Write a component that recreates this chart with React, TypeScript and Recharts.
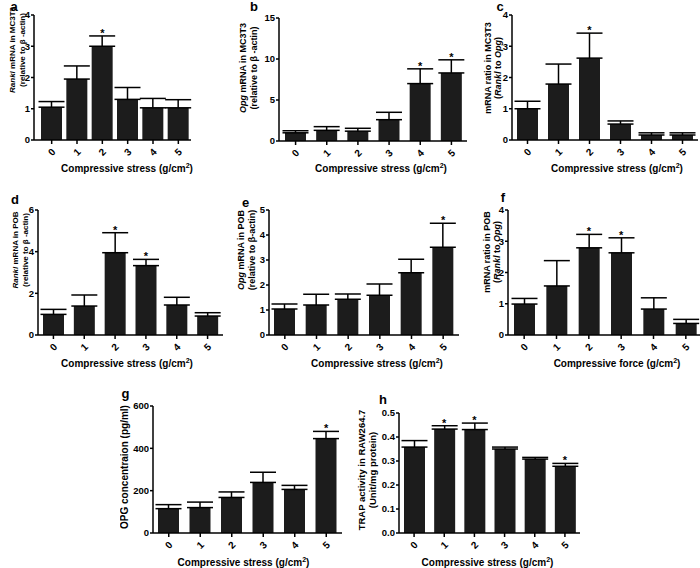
import React from 'react';
import { ComposedChart, Bar, ErrorBar, Scatter, XAxis, YAxis } from 'recharts';

const stressLevels = ['0', '1', '2', '3', '4', '5'];

// a - Rankl mRNA in MC3T3
const ranklMc3t3 = [1.05, 1.95, 3.0, 1.3, 1.03, 1.03];
const ranklMc3t3Sem = [0.18, 0.42, 0.33, 0.38, 0.3, 0.26];
const ranklMc3t3Sig = [2];

// b - Opg mRNA in MC3T3
const opgMc3t3 = [1.0, 1.3, 1.2, 2.6, 7.0, 8.3];
const opgMc3t3Sem = [0.25, 0.45, 0.35, 0.9, 1.8, 1.6];
const opgMc3t3Sig = [4, 5];

// c - Rankl/Opg ratio in MC3T3
const ratioMc3t3 = [1.0, 1.79, 2.62, 0.51, 0.16, 0.16];
const ratioMc3t3Sem = [0.24, 0.64, 0.8, 0.1, 0.07, 0.07];
const ratioMc3t3Sig = [2];

// d - Rankl mRNA in POB
const ranklPob = [0.99, 1.39, 3.95, 3.33, 1.44, 0.91];
const ranklPobSem = [0.24, 0.53, 0.96, 0.3, 0.37, 0.16];
const ranklPobSig = [2, 3];

// e - Opg mRNA in POB
const opgPob = [1.04, 1.2, 1.43, 1.59, 2.49, 3.51];
const opgPobSem = [0.2, 0.43, 0.21, 0.45, 0.54, 0.96];
const opgPobSig = [5];

// f - Rankl/Opg ratio in POB
const ratioPob = [0.99, 1.57, 2.79, 2.63, 0.83, 0.37];
const ratioPobSem = [0.18, 0.81, 0.43, 0.48, 0.36, 0.13];
const ratioPobSig = [2, 3];

// g - OPG concentration
const opgConc = [115, 120, 168, 239, 206, 446];
const opgConcSem = [19, 26, 26, 48, 19, 34];
const opgConcSig = [5];

// h - TRAP activity in RAW264.7
const trapActivity = [0.358, 0.433, 0.431, 0.35, 0.308, 0.278];
const trapActivitySem = [0.027, 0.014, 0.027, 0.008, 0.007, 0.012];
const trapActivitySig = [1, 2, 5];

const font = 'Liberation Sans, Arial, sans-serif';

const makeRows = (vals: number[], sem: number[], sig: number[]) =>
  stressLevels.map((s, i) => ({
    stress: s,
    value: vals[i],
    err: [0, sem[i]],
    star: sig.includes(i) ? vals[i] + sem[i] : null,
  }));

const StressTick = (props: any) => {
  const { x, y, payload } = props;
  return (
    <g transform={`translate(${x},${y + 6})`}>
      <text transform="rotate(-45)" textAnchor="middle" dominantBaseline="central"
        fontSize={10} fontWeight="bold" fill="#000" fontFamily={font}>
        {payload.value}
      </text>
    </g>
  );
};

const StarShape = (props: any) => {
  if (props.payload == null || props.payload.star == null) return <g />;
  return (
    <text x={props.cx} y={props.cy + 1} textAnchor="middle" fontSize={11}
      fontWeight="bold" fill="#000" fontFamily={font}>*</text>
  );
};

const XTitle = ({ text, tx, ty }: any) => (
  <text x={tx} y={ty} textAnchor="middle" fontSize={10} fontWeight="bold" fill="#000" fontFamily={font}>
    {text}
    <tspan dy={-4} fontSize={7}>2</tspan>
    <tspan dy={4}>)</tspan>
  </text>
);

const YTitle = ({ lines, xs, mid, size }: any) => (
  <g>
    {lines.map((ln: any, i: number) => (
      <text key={i} transform={`translate(${xs[i]},${mid}) rotate(-90)`} textAnchor="middle"
        dominantBaseline="central" fontSize={size} fontWeight="bold" fill="#000" fontFamily={font}>
        {ln}
      </text>
    ))}
  </g>
);

const Panel = (p: any) => {
  const { rows, box, plot, domain, ticks, fmt, yLines, yXs, yCy, ySize, xText, xCx, xY } = p;
  return (
    <div style={{ position: 'absolute', left: box.x, top: box.y }}>
      <ComposedChart width={box.w} height={box.h} data={rows}
        margin={{ top: plot.top - box.y, right: box.x + box.w - plot.right, bottom: 0, left: 0 }}>
        <XAxis dataKey="stress" type="category" interval={0}
          height={box.y + box.h - plot.bottom}
          padding={{ left: plot.padL || 0, right: 0 }}
          axisLine={{ stroke: '#000', strokeWidth: 1.5 }}
          tickLine={{ stroke: '#000', strokeWidth: 1.5 }}
          tickSize={4} tick={<StressTick />}
          label={<XTitle text={xText} tx={xCx - box.x} ty={xY - box.y} />} />
        <YAxis type="number" width={plot.left - box.x} domain={domain} ticks={ticks}
          allowDataOverflow tickFormatter={fmt}
          axisLine={{ stroke: '#000', strokeWidth: 1.5 }}
          tickLine={{ stroke: '#000', strokeWidth: 1.5 }}
          tickSize={3} tickMargin={1}
          tick={{ fontSize: 9.5, fontWeight: 'bold', fill: '#000', fontFamily: font }}
          label={<YTitle lines={yLines} xs={yXs.map((v: number) => v - box.x)} mid={yCy - box.y} size={ySize} />} />
        <Bar dataKey="value" fill="#1c1c1c" barSize={21} isAnimationActive={false}>
          <ErrorBar dataKey="err" width={13} stroke="#000" strokeWidth={1.5} direction="y" />
        </Bar>
        <Scatter dataKey="star" shape={StarShape} isAnimationActive={false} />
      </ComposedChart>
    </div>
  );
};

const it = (s: string) => <tspan fontStyle="italic">{s}</tspan>;
const stressText = 'Compressive stress (g/cm';

const panels = [
  {
    rows: makeRows(ranklMc3t3, ranklMc3t3Sem, ranklMc3t3Sig),
    box: { x: 0, y: 0, w: 230, h: 180 }, plot: { left: 34, right: 191, top: 15, bottom: 140, padL: 5 },
    domain: [0, 4], ticks: [0, 1, 2, 3, 4],
    yLines: [<>{it('Rankl')} mRNA in MC3T3</>, '(relative to β -actin)'], yXs: [12, 22.5], yCy: 50, ySize: 8,
    xText: stressText, xCx: 127, xY: 171.5,
  },
  {
    rows: makeRows(opgMc3t3, opgMc3t3Sem, opgMc3t3Sig),
    box: { x: 230, y: 0, w: 240, h: 180 }, plot: { left: 279, right: 467, top: 18, bottom: 141, padL: 1 },
    domain: [0, 15], ticks: [0, 5, 10, 15],
    yLines: [<>{it('Opg')} mRNA in MC3T3</>, '(relative to β -actin)'], yXs: [243, 254], yCy: 68, ySize: 9,
    xText: stressText, xCx: 381, xY: 171.5,
  },
  {
    rows: makeRows(ratioMc3t3, ratioMc3t3Sem, ratioMc3t3Sig),
    box: { x: 460, y: 0, w: 240, h: 180 }, plot: { left: 512, right: 698, top: 15, bottom: 140 },
    domain: [0, 4], ticks: [0, 1, 2, 3, 4],
    yLines: ['mRNA ratio in MC3T3', <>({it('Rankl')} to {it('Opg')})</>], yXs: [488, 498], yCy: 68, ySize: 9,
    xText: stressText, xCx: 617, xY: 171.5,
  },
  {
    rows: makeRows(ranklPob, ranklPobSem, ranklPobSig),
    box: { x: 0, y: 180, w: 230, h: 190 }, plot: { left: 38, right: 223, top: 210, bottom: 335 },
    domain: [0, 6], ticks: [0, 2, 4, 6],
    yLines: [<>{it('Rankl')} mRNA in POB</>, '(relative to β -actin)'], yXs: [15, 25.5], yCy: 250, ySize: 8,
    xText: stressText, xCx: 127, xY: 366.5,
  },
  {
    rows: makeRows(opgPob, opgPobSem, opgPobSig),
    box: { x: 230, y: 180, w: 235, h: 190 }, plot: { left: 269, right: 459, top: 210, bottom: 335 },
    domain: [0, 5], ticks: [0, 1, 2, 3, 4, 5],
    yLines: [<>{it('Opg')} mRNA in POB</>, '(relative to β-actin)'], yXs: [241, 252], yCy: 250, ySize: 9,
    xText: stressText, xCx: 377, xY: 366.5,
  },
  {
    rows: makeRows(ratioPob, ratioPobSem, ratioPobSig),
    box: { x: 460, y: 180, w: 240, h: 190 }, plot: { left: 508, right: 702, top: 210, bottom: 335 },
    domain: [0, 4], ticks: [0, 1, 2, 3, 4],
    yLines: ['mRNA ratio in POB', <>({it('Rankl')} to {it('Opg')})</>], yXs: [487, 497], yCy: 252, ySize: 9,
    xText: 'Compressive force (g/cm', xCx: 617, xY: 366.5,
  },
  {
    rows: makeRows(opgConc, opgConcSem, opgConcSig),
    box: { x: 120, y: 370, w: 230, h: 198 }, plot: { left: 153, right: 342, top: 406, bottom: 533 },
    domain: [0, 600], ticks: [0, 200, 400, 600],
    yLines: ['OPG concentraion (pg/ml)'], yXs: [124], yCy: 467, ySize: 10,
    xText: stressText, xCx: 243.5, xY: 565.5,
  },
  {
    rows: makeRows(trapActivity, trapActivitySem, trapActivitySig),
    box: { x: 340, y: 370, w: 250, h: 198 }, plot: { left: 399, right: 580, top: 413, bottom: 533 },
    domain: [0, 0.5], ticks: [0, 0.1, 0.2, 0.3, 0.4, 0.5], fmt: (v: number) => v.toFixed(1),
    yLines: ['TRAP activity in RAW264.7', '(Unit/mg protein)'], yXs: [361, 372], yCy: 470, ySize: 9.5,
    xText: stressText, xCx: 487.5, xY: 565.5,
  },
];

const panelLetters = [
  { t: 'a', x: 14, y: 10.5 },
  { t: 'b', x: 254, y: 11 },
  { t: 'c', x: 500, y: 11 },
  { t: 'd', x: 15, y: 203.5 },
  { t: 'e', x: 245.5, y: 206.5 },
  { t: 'f', x: 503, y: 202 },
  { t: 'g', x: 125.5, y: 397.5 },
  { t: 'h', x: 383, y: 404 },
];

export default function App() {
  return (
    <div style={{ position: 'absolute', left: 0, top: 0, width: 700, height: 568, background: '#fff', overflow: 'hidden' }}>
      {panels.map((p, i) => <Panel key={i} {...p} />)}
      <svg width={700} height={568} style={{ position: 'absolute', left: 0, top: 0, pointerEvents: 'none' }}>
        {panelLetters.map((l) => (
          <text key={l.t} x={l.x} y={l.y} textAnchor="middle" fontSize={13} fontWeight="bold" fill="#000" fontFamily={font}>
            {l.t}
          </text>
        ))}
      </svg>
    </div>
  );
}
